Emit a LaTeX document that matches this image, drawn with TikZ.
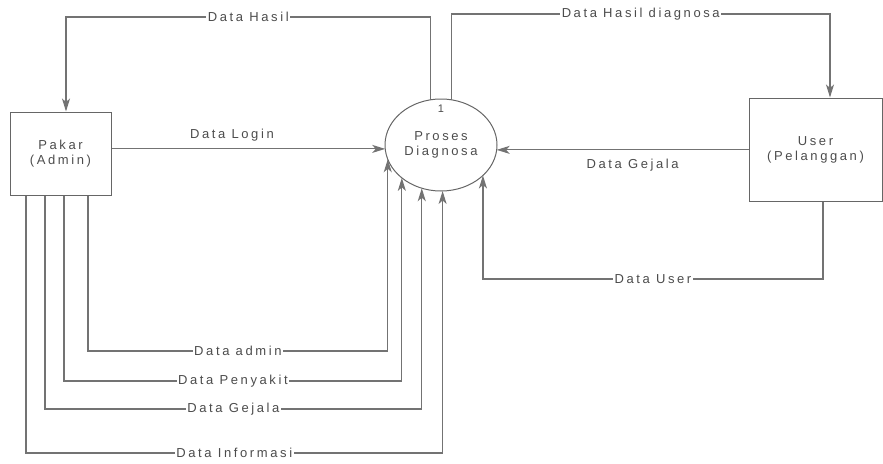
\documentclass[tikz,border=0pt]{standalone}
\usepackage{fontspec}
\setmainfont{Liberation Sans}[LetterSpace=20]
\usetikzlibrary{arrows.meta,shapes.geometric}
\begin{document}
\begin{tikzpicture}[x=1pt,y=-1pt,
  line/.style={draw=black!55, line width=1.1pt},
  arr/.style={line, -{Stealth[length=13pt,width=8pt,inset=3.5pt]}},
  lbl/.style={fill=white, inner sep=1.5pt, text=black!70, font=\fontsize{13}{15}\selectfont},
  plain/.style={inner sep=1pt, text=black!70, font=\fontsize{13}{15}\selectfont},
  ent/.style={draw=black!60, line width=1pt, align=center, text=black!70,
    font=\fontsize{13}{15}\selectfont, inner sep=0pt},
  proc/.style={ellipse, draw=black!60, line width=1pt, align=center, text=black!70,
    font=\fontsize{13}{15}\selectfont, inner sep=0pt, outer sep=0pt}]
\useasboundingbox (0,0) rectangle (883,463);

\node[ent, minimum width=101, minimum height=83] (pakar) at (60.5,153.5) {Pakar\\(Admin)};
\node[ent, minimum width=133, minimum height=103] (user) at (815.5,149.5) {User\\(Pelanggan)};
\node[proc, minimum width=112, minimum height=92] (p) at (441,145) {Proses\\Diagnosa};
\node[plain, font=\fontsize{11}{12}\selectfont] (num) at (441,109) {1};

\coordinate (c1) at (66,17);
\coordinate (c2) at (830,14);
\coordinate (c3) at (0,279);
\coordinate (ca) at (0,351);
\coordinate (cb) at (0,381);
\coordinate (cc) at (0,409);
\coordinate (cd) at (0,453);

% top flows
\draw[arr] (p.103.7) |- node[lbl,pos=0.75]{Data Hasil} (c1) -- (c1 |- pakar.north);
\draw[arr] (p.77.5) |- node[lbl,pos=0.75]{Data Hasil diagnosa} (c2) -- (c2 |- user.north);

% horizontal flows
\draw[arr] (pakar.east |- p.184) -- node[plain,pos=0.44,above=6pt]{Data Login} (p.184);
\draw[arr] (user.west |- p.355) -- node[plain,pos=0.46,below=8pt]{Data Gejala} (p.355);

% user data
\draw[arr] ([xshift=7.5pt]user.south) |- node[lbl,pos=0.75]{Data User} (p.324 |- c3) -- (p.324);

% admin flows
\draw[arr] ([xshift=27.5pt]pakar.south) |- node[lbl,pos=0.75]{Data admin} (p.195.7 |- ca) -- (p.195.7);
\draw[arr] ([xshift=3.5pt]pakar.south) |- node[lbl,pos=0.75]{Data Penyakit} (p.220 |- cb) -- (p.220);
\draw[arr] ([xshift=-15.5pt]pakar.south) |- node[lbl,pos=0.75]{Data Gejala} (p.246.3 |- cc) -- (p.246.3);
\draw[arr] ([xshift=-34.5pt]pakar.south) |- node[lbl,pos=0.75]{Data Informasi} (p.272.5 |- cd) -- (p.272.5);
\end{tikzpicture}
\end{document}
